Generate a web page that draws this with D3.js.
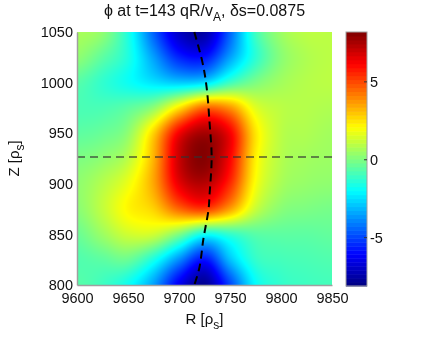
<!DOCTYPE html>
<html>
<head>
<meta charset="utf-8">
<script src="https://cdn.jsdelivr.net/npm/d3@7"></script>
<style>
  body { margin: 0; background: #fff; }
  #wrap { position: relative; width: 424px; height: 342px; }
  #wrap canvas, #wrap svg { position: absolute; left: 0; top: 0; }
  text { font-family: "Liberation Sans", Arial, sans-serif; fill: #111; }
</style>
</head>
<body>
<div id="wrap"></div>
<script>
var svgWidth = 424;
var svgHeight = 342;

var margin = { top: 32, right: 92, bottom: 57, left: 77 };
var width = svgWidth - margin.left - margin.right;
var height = svgHeight - margin.top - margin.bottom;

// grid of the field, R across, Z down (top row is Z=1050)
var rValues = [9600, 9625, 9650, 9675, 9700, 9725, 9750, 9775, 9800, 9825, 9850];
var zValues = [1050, 1025, 1000, 975, 950, 925, 900, 875, 850, 825, 800];
var phiGrid = [
  [ 0.7,  0.3, -1.5, -4.5, -7.0, -7.5, -4.5, -1.0,  0.5,  1.0,  1.0],
  [ 0.3, -0.5, -1.5, -3.5, -5.5, -5.8, -3.5, -1.3,  0.2,  0.8,  1.0],
  [-0.6, -1.2, -1.8, -2.4, -2.8, -2.5, -1.0,  0.0,  0.6,  0.9,  1.0],
  [-0.8, -0.8, -0.5,  0.3,  2.5,  4.5,  3.8,  1.6,  1.0,  0.9,  0.8],
  [-0.5, -0.3,  0.3,  2.8,  6.3,  7.6,  6.3,  2.5,  1.0,  0.8,  0.6],
  [ 0.0,  0.3,  1.0,  3.3,  7.0,  8.1,  6.2,  2.3,  0.9,  0.6,  0.5],
  [ 0.3,  0.9,  1.8,  3.5,  6.5,  7.3,  5.5,  2.0,  0.7,  0.4,  0.3],
  [ 0.2,  1.1,  2.2,  2.8,  4.5,  5.2,  3.6,  1.2,  0.2,  0.0, -0.1],
  [-0.3,  0.5,  1.3,  1.3,  0.0, -1.8, -1.2, -0.6, -0.5, -0.5, -0.4],
  [-0.7, -0.5, -0.3, -1.6, -3.8, -5.8, -3.0, -1.2, -0.9, -0.8, -0.7],
  [-0.6, -1.0, -1.8, -3.5, -6.3, -7.8, -5.0, -2.0, -1.2, -1.0, -0.9]
];
var colorRange = [-8.1, 8.2];

// dashed curve through the blob
var curveR = [9715, 9723, 9727, 9730, 9732, 9730, 9729, 9724, 9720, 9715];
var curveZ = [1050, 1020, 996, 960, 926, 890, 875, 846, 817, 800];
var midZ = 926.5;

var rTicks = [9600, 9650, 9700, 9750, 9800, 9850];
var zTicks = [800, 850, 900, 950, 1000, 1050];
var cbTicks = [-5, 0, 5];

function clamp(v) { return Math.max(0, Math.min(1, v)); }
function jet(t) {
  var r = clamp(1.5 - Math.abs(4 * t - 3));
  var g = clamp(1.5 - Math.abs(4 * t - 2));
  var b = clamp(1.5 - Math.abs(4 * t - 1));
  return [Math.round(r * 255), Math.round(g * 255), Math.round(b * 255)];
}

var xScale = d3.scaleLinear().domain([9600, 9850]).range([0, width]);
var yScale = d3.scaleLinear().domain([800, 1050]).range([height, 0]);
var colorScale = d3.scaleLinear().domain(colorRange).range([0, 1]).clamp(true);

// smooth shading between grid nodes (cubic, like a resampled image)
function cubic(p0, p1, p2, p3, t) {
  return p1 + 0.5 * t * (p2 - p0 + t * (2 * p0 - 5 * p1 + 4 * p2 - p3 + t * (3 * (p1 - p2) + p3 - p0)));
}
function gridAt(j, i) {
  j = Math.max(0, Math.min(zValues.length - 1, j));
  i = Math.max(0, Math.min(rValues.length - 1, i));
  return phiGrid[j][i];
}
function sample(fj, fi) {
  var j0 = Math.max(0, Math.min(zValues.length - 2, Math.floor(fj)));
  var i0 = Math.max(0, Math.min(rValues.length - 2, Math.floor(fi)));
  var ty = fj - j0, tx = fi - i0;
  var rows = [-1, 0, 1, 2].map(dj =>
    cubic(gridAt(j0 + dj, i0 - 1), gridAt(j0 + dj, i0), gridAt(j0 + dj, i0 + 1), gridAt(j0 + dj, i0 + 2), tx));
  return cubic(rows[0], rows[1], rows[2], rows[3], ty);
}

// field image on a canvas under the svg
var canvas = d3.select("#wrap").append("canvas")
  .attr("width", width)
  .attr("height", height)
  .style("left", margin.left + "px")
  .style("top", margin.top + "px");
var ctx = canvas.node().getContext("2d");
var img = ctx.createImageData(width, height);
var rStep = rValues[1] - rValues[0];
var zStep = zValues[0] - zValues[1];
for (var py = 0; py < height; py++) {
  var fj = (zValues[0] - yScale.invert(py + 0.5)) / zStep;
  for (var px = 0; px < width; px++) {
    var fi = (xScale.invert(px + 0.5) - rValues[0]) / rStep;
    var c = jet(colorScale(sample(fj, fi)));
    var k = (py * width + px) * 4;
    img.data[k] = c[0]; img.data[k + 1] = c[1]; img.data[k + 2] = c[2]; img.data[k + 3] = 255;
  }
}
ctx.putImageData(img, 0, 0);

var svg = d3.select("#wrap").append("svg")
  .attr("width", svgWidth)
  .attr("height", svgHeight);

var chartGroup = svg.append("g")
  .attr("transform", `translate(${margin.left}, ${margin.top})`);

// dashed lines
chartGroup.append("line")
  .attr("x1", xScale(9600)).attr("x2", xScale(9850))
  .attr("y1", yScale(midZ)).attr("y2", yScale(midZ))
  .attr("stroke", "#333")
  .attr("stroke-opacity", 0.8)
  .attr("stroke-width", 1.5)
  .attr("stroke-dasharray", "8,5");

var curvePts = curveR.map((r, i) => [r, curveZ[i]]);
chartGroup.append("path")
  .datum(curvePts)
  .attr("fill", "none")
  .attr("stroke", "#000")
  .attr("stroke-width", 2)
  .attr("stroke-dasharray", "8,5")
  .attr("d", d3.line().x(d => xScale(d[0])).y(d => yScale(d[1])).curve(d3.curveCatmullRom));

// axes
var bottomAxis = d3.axisBottom(xScale).tickValues(rTicks).tickFormat(d3.format("d")).tickSize(0).tickPadding(8);
var leftAxis = d3.axisLeft(yScale).tickValues(zTicks).tickFormat(d3.format("d")).tickSize(0).tickPadding(4);

var xAxis = chartGroup.append("g")
  .attr("transform", `translate(0, ${height})`)
  .call(bottomAxis);
var yAxis = chartGroup.append("g").call(leftAxis);

[xAxis, yAxis].forEach(function(ax) {
  ax.select(".domain").attr("stroke", "#a0a0a0").attr("stroke-width", 1.5);
  ax.selectAll("text")
    .style("font-family", "'Liberation Sans', Arial, sans-serif")
    .style("font-size", "14.5px")
    .attr("fill", "#111");
});

// title
var title = svg.append("text")
  .attr("x", margin.left + width / 2)
  .attr("y", 16)
  .attr("text-anchor", "middle")
  .style("font-size", "16px");
title.append("tspan").text("\u03d5 at t=143 qR/v");
title.append("tspan").attr("dy", 5).style("font-size", "12px").text("A");
title.append("tspan").attr("dy", -5).text(", \u03b4s=0.0875");

// axis labels
var xLabel = svg.append("text")
  .attr("x", margin.left + width / 2)
  .attr("y", 324)
  .attr("text-anchor", "middle")
  .style("font-size", "15px");
xLabel.append("tspan").text("R [\u03c1");
xLabel.append("tspan").attr("dy", 5).style("font-size", "12px").text("s");
xLabel.append("tspan").attr("dy", -5).text("]");

var yLabel = svg.append("text")
  .attr("transform", `translate(19, ${margin.top + height / 2}) rotate(-90)`)
  .attr("text-anchor", "middle")
  .style("font-size", "15px");
yLabel.append("tspan").text("Z [\u03c1");
yLabel.append("tspan").attr("dy", 5).style("font-size", "12px").text("s");
yLabel.append("tspan").attr("dy", -5).text("]");

// colorbar
var cbX = 346, cbW = 21, cbTop = 32, cbBottom = 286;
var cbScale = d3.scaleLinear().domain(colorRange).range([cbBottom, cbTop]);
var nSteps = 64;
var cbGroup = svg.append("g");
cbGroup.selectAll("rect.step")
  .data(d3.range(nSteps))
  .enter()
  .append("rect")
  .attr("class", "step")
  .attr("x", cbX)
  .attr("width", cbW)
  .attr("y", d => cbScale(colorRange[0] + (d + 1) * (colorRange[1] - colorRange[0]) / nSteps))
  .attr("height", (cbBottom - cbTop) / nSteps + 0.5)
  .attr("fill", d => { var c = jet((d + 0.5) / nSteps); return `rgb(${c[0]},${c[1]},${c[2]})`; });
cbGroup.append("rect")
  .attr("x", cbX).attr("y", cbTop)
  .attr("width", cbW).attr("height", cbBottom - cbTop)
  .attr("fill", "none")
  .attr("stroke", "#a0a0a0")
  .attr("stroke-width", 1);
cbGroup.selectAll("line.tick")
  .data(cbTicks)
  .enter()
  .append("line")
  .attr("x1", cbX + cbW - 3).attr("x2", cbX + cbW)
  .attr("y1", d => cbScale(d)).attr("y2", d => cbScale(d))
  .attr("stroke", "#333");
cbGroup.selectAll("text")
  .data(cbTicks)
  .enter()
  .append("text")
  .attr("x", cbX + cbW + 3)
  .attr("y", d => cbScale(d))
  .attr("dy", "0.35em")
  .style("font-size", "14.5px")
  .text(d => d);
</script>
</body>
</html>
